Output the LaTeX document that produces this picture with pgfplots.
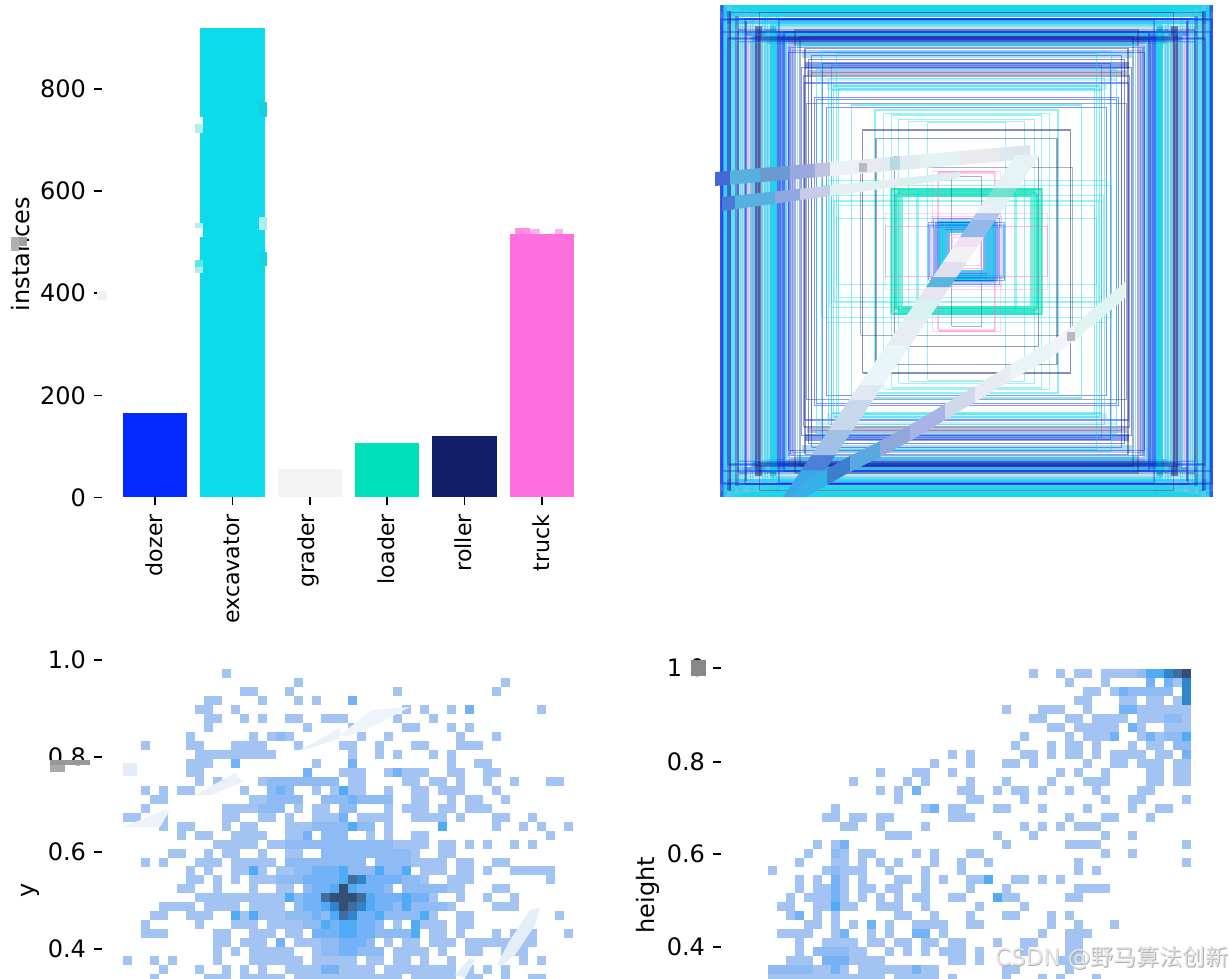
\documentclass[border=0pt]{standalone}
\usepackage{fontspec}
\setmainfont{DejaVu Sans}
\newfontfamily\cjk{Noto Sans CJK SC}
\usepackage{pgfplots}
\pgfplotsset{compat=1.18}
\definecolor{ca}{HTML}{A3C4F3}
\definecolor{cb}{HTML}{8FBBF5}
\definecolor{cc}{HTML}{73B2F6}
\definecolor{cd}{HTML}{4FABF5}
\definecolor{ce}{HTML}{2E85CC}
\definecolor{cf}{HTML}{3F6E9E}
\definecolor{cg}{HTML}{354F74}
\definecolor{kb}{HTML}{042AFF}
\definecolor{kc}{HTML}{0BDBEB}
\definecolor{kg}{HTML}{F3F3F3}
\definecolor{kt}{HTML}{00DFB7}
\definecolor{kn}{HTML}{111F68}
\definecolor{kp}{HTML}{FF6FDD}
\pgfplotsset{
  tfont/.style={tick label style={font=\fontsize{18}{21}\selectfont},/pgf/number format/assume math mode=true},
  panel/.style={anchor=south west,scale only axis,tfont,
    axis y line*=left,y axis line style={draw=none},
    ytick style={black,line width=1.1pt},major tick length=6pt,tick align=outside,
    yticklabel style={xshift=-2.5pt},
    label style={font=\fontsize{18}{21}\selectfont}},
  heat/.style={panel,hide x axis,y dir=reverse,ymin=-2.657,ymax=34.5,width=373.5pt,height=249.75pt},
  hm/.style={line width=6.76pt,line cap=butt},
}
\newcommand\A[3]{\addplot[hm,draw=ca] coordinates {(#2,#1)(#3,#1)};}
\newcommand\Ov[4]{\addplot[hm,draw=c#1] coordinates {(#3,#2)(#4,#2)};}
\newcommand\R[4][0.5]{\addplot[draw=k#2,opacity=#1,line width=0.95pt] coordinates {(-#3,-#4)(#3,-#4)(#3,#4)(-#3,#4)(-#3,-#4)};}
% wide bands of overlapping box edges: colour, width in px, half width, half height
\newcommand\Hb[4]{\definecolor{C#1}{HTML}{#1}%
  \addplot[draw=C#1,opacity=0.85,line width=#2*0.75pt] coordinates {(-#3,#4)(#3,#4)};%
  \addplot[draw=C#1,opacity=0.85,line width=#2*0.75pt] coordinates {(-#3,-#4)(#3,-#4)};}
\newcommand\Vb[4]{\definecolor{C#1}{HTML}{#1}%
  \addplot[draw=C#1,opacity=0.75,line width=#2*0.75pt] coordinates {(#3,-#4)(#3,#4)};%
  \addplot[draw=C#1,opacity=0.75,line width=#2*0.75pt] coordinates {(-#3,-#4)(-#3,#4)};}
\newcommand\G[2]{\definecolor{C#1}{HTML}{#1}\addplot[fill=C#1,draw=none] coordinates {#2} -- cycle;}
\begin{document}
\begin{tikzpicture}
\useasboundingbox (0,0) rectangle (922.5pt,733.5pt);
\clip (0,0) rectangle (922.5pt,733.5pt);
% ---------- bars
\begin{axis}[panel,at={(76.5pt,360.375pt)},width=373.5pt,height=358.125pt,
  xmin=-0.685,xmax=5.75,ymin=0,ymax=935,
  axis x line*=bottom,x axis line style={draw=none},
  xtick={0,1,2,3,4,5},xticklabels={dozer,excavator,grader,loader,roller,truck},
  xtick style={black,line width=1.1pt},
  xticklabel style={rotate=90,anchor=east,font=\fontsize{16.6}{19}\selectfont,yshift=0.75pt,xshift=-3pt},
  ytick={0,200,400,600,800},
  ylabel={instances},ylabel style={at={(axis description cs:-0.1627,0.51)},anchor=center},
  ybar,bar width=48.4pt,bar shift=0pt]
\addplot[fill=kb,draw=none] coordinates {(0,165)};
\addplot[fill=kc,draw=none] coordinates {(1,919)};
\addplot[fill=kg,draw=none] coordinates {(2,56)};
\addplot[fill=kt,draw=none] coordinates {(3,106)};
\addplot[fill=kn,draw=none] coordinates {(4,120)};
\addplot[fill=kp,draw=none] coordinates {(5,516)};
\end{axis}
% ---------- boxes
\begin{axis}[anchor=south west,scale only axis,at={(540pt,360.75pt)},width=369.75pt,height=368.25pt,
  xmin=-246.5,xmax=246.5,ymin=-245.5,ymax=245.5,hide axis]
\Hb{2CC4EE}{6.7}{246}{243.2}\Hb{20C8EE}{5}{244}{236.5}\Hb{2860E0}{2.3}{240}{232.2}\Hb{20C8EE}{3.3}{240}{229}
\Hb{A0E8F4}{5.3}{235}{224.8}\Hb{3090E0}{5.3}{230}{218.2}\Hb{5070C0}{4.7}{215}{213.2}\Hb{6090D8}{3.3}{200}{209.2}
\Hb{B0E0F0}{4.3}{170}{205.2}\Hb{A0D8F0}{7.3}{165}{197.2}\Hb{7090E0}{6.7}{162}{185.8}\Hb{B0B0D8}{5.3}{160}{178.8}
\Hb{C0F0F6}{3.3}{150}{172.2}\Hb{C0F0F6}{5.7}{140}{164.3}
\Vb{1A3FE0}{4}{244.5}{246}\Vb{20C0E8}{2.7}{241.2}{244}\Vb{2860D8}{4}{237.8}{240}\Vb{90E0F0}{5.3}{233.2}{235}
\Vb{4070C8}{3.3}{229.5}{235}\Vb{A0D8F0}{5.7}{224.2}{225}\Vb{3060E0}{2.3}{220.2}{230}\Vb{D0C0E8}{3.3}{217.5}{215}
\Vb{60A8E0}{3.7}{213.7}{220}\Vb{3A5AA0}{6.7}{208.2}{225}\Vb{A0D8E8}{5}{203.5}{215}\Vb{70C8F0}{4}{199}{222}
\Vb{10B8E0}{6}{193.5}{225}\Vb{4C80E8}{10}{185.5}{218}\Vb{B0D0F0}{2.7}{180.3}{210}\Vb{A0A8E8}{5.3}{175.5}{205}
\R{c}{242.5}{246.5}\R{c}{241.2}{245.5}\R{c}{233.8}{244.5}\R{c}{232.5}{243.5}\R{c}{225.8}{242.5}
\R{c}{224}{241.5}\R{c}{215.8}{240.5}\R{c}{213.8}{238.2}\R{c}{203.8}{237.2}\R{c}{201.5}{235.8}
\R{c}{199}{234.8}\R{c}{194.5}{230.2}\R{c}{193.5}{228.8}\R{c}{192.5}{226.5}\R{c}{191.5}{218.2}
\R{c}{180.5}{216.8}\R{c}{240}{209}\R{c}{196}{246}\R{c}{190}{244}\R{c}{188}{243}\R{c}{235}{246.5}\R{c}{228}{245.5}
\R[0.35]{b}{245.5}{232.5}\R[0.35]{b}{244.5}{231.5}\R[0.35]{b}{243.8}{219.5}\R[0.35]{b}{239.2}{213.5}\R[0.35]{b}{237.8}{212.5}
\R[0.35]{b}{229}{209.8}\R[0.35]{b}{221.5}{232.5}\R[0.35]{b}{209.8}{219.5}\R[0.35]{b}{189}{213.5}\R[0.35]{b}{187.5}{231.5}
\R[0.35]{b}{185.8}{212.5}\R[0.35]{b}{184}{209.8}\R[0.35]{b}{182.5}{219.5}
\R[0.35]{n}{236.5}{239.2}\R[0.35]{n}{228}{221.5}\R[0.35]{n}{211}{214.5}\R[0.35]{n}{208}{211.5}\R[0.35]{n}{207}{239.2}\R[0.35]{n}{171.5}{221.5}\R[0.35]{n}{166.5}{214.5}
\R[0.3]{p}{218}{225}
\R[0.3]{b}{177.5}{206.5}\R[0.3]{b}{175.8}{204}\R[0.3]{b}{174}{201}
\R[0.45]{n}{161.5}{202.8}\R{n}{158.2}{192.2}\R[0.4]{n}{163}{175.5}\R[0.4]{n}{160}{148.2}\R[0.3]{n}{155}{178.8}
\R{b}{154.8}{195.8}\R{b}{143.8}{187.8}\R[0.3]{b}{134.8}{186.2}\R{b}{165}{184.2}\R{b}{162}{168.5}
\R{b}{152}{154.2}\R{b}{150}{152.2}\R{b}{140}{144.2}\R{b}{178}{199}
\R{c}{169}{206.5}\R{c}{144.8}{199.8}\R{c}{129.8}{198.2}\R{c}{150}{182.2}\R{c}{138}{173.2}
\R{c}{133}{165.5}\R{c}{128}{163.2}\R{c}{135}{161.5}\R{c}{115}{146.5}\R{c}{92}{142}
\R[0.4]{c}{135}{50}\R[0.4]{c}{130}{33}\R[0.4]{c}{140}{71}\R[0.4]{c}{145}{66}\R[0.4]{c}{137}{56}\R[0.4]{c}{132}{51}\R[0.4]{c}{128}{46}
\R[0.4]{c}{90.8}{141}\R[0.4]{c}{83}{138}\R[0.4]{c}{74.8}{136.5}\R[0.4]{c}{68}{132}\R[0.4]{c}{58}{130}\R[0.4]{c}{39}{128.8}
\R{n}{103.8}{121.5}\R[0.4]{n}{90.5}{113.2}\R[0.35]{n}{106}{84}\R[0.45]{n}{71.7}{95}
\R{t}{75.4}{63}\R{t}{74}{62}\R{t}{71}{60}\R{t}{70}{59}\R{t}{66}{57}\R{t}{65}{56.5}\R{t}{72}{55}\R{t}{68}{61}
\R{t}{73}{61.5}\R{t}{69}{58.5}\R{t}{67}{60}\R{t}{64}{55}\R{t}{75}{62.5}\R{t}{70.5}{57.5}
\R[0.4]{c}{50}{56}\R[0.4]{c}{48.5}{60}
\R{p}{80.8}{25.3}\R[0.3]{p}{80.8}{38}\R{p}{28}{79.6}\R[0.3]{p}{34}{80}\R[0.3]{p}{29}{78}\R[0.35]{n}{15}{75}
\R[0.4]{b}{30}{28}\R[0.4]{b}{28}{30}\R[0.4]{b}{27}{26}\R[0.4]{b}{25}{24}\R[0.4]{b}{24}{27}\R[0.4]{b}{26}{29}\R[0.4]{b}{22}{25}
\R[0.4]{b}{23}{22}\R[0.4]{b}{21}{24}\R[0.4]{b}{20}{21}\R[0.4]{b}{19}{23}\R[0.4]{b}{18}{20}\R[0.4]{b}{27}{22}\R[0.4]{b}{17}{19}
\R{c}{28}{26}\R{c}{26}{28}\R{c}{25}{30}\R{c}{24}{29}\R{c}{23}{28}\R{c}{22}{27}\R{c}{21}{26}\R{c}{20}{28}\R{c}{26}{24}\R{c}{27}{27}
\R{c}{25}{25}\R{c}{24}{24}\R{c}{23}{23}\R{c}{22}{23}\R{c}{21}{21}\R{c}{20}{20}\R{c}{19}{19}\R{c}{18}{26}
\R{c}{27}{29}\R{c}{26}{26}\R{c}{25}{27}\R{c}{24}{26}\R{c}{23}{25}\R{c}{22}{24}\R{c}{28}{28}\R{c}{29}{30}
\R[0.4]{b}{31}{29}\R[0.4]{b}{29}{27}\R[0.4]{b}{37}{26}\R[0.4]{b}{32}{24}
\R{p}{18}{17}\R[0.35]{p}{14}{14}\R[0.35]{p}{30}{25}\R[0.35]{p}{35}{35}\R[0.35]{p}{29}{32}\R[0.35]{p}{25}{32}\R[0.35]{p}{22}{30}
\R[0.4]{c}{39}{27}\R[0.4]{b}{38}{29}\R[0.4]{c}{36}{24}\R[0.4]{b}{33}{33}\R[0.4]{c}{31}{31}
\end{axis}
% ---------- x-y histogram
\begin{axis}[heat,at={(76.5pt,-3.75pt)},xmin=-2.333,xmax=53,
  ytick={-1.54,9.27,19.9,30.7},yticklabels={1.0,0.8,0.6,0.4},
  ylabel={y},ylabel style={at={(axis description cs:-0.1446,0.279)},anchor=center}]
\A{0}{11}{12}
\A{1}{19}{20}\A{1}{42}{43}
\A{2}{13}{15}\A{2}{18}{19}\A{2}{30}{31}\A{2}{41}{42}
\A{3}{9}{11}\A{3}{15}{16}\A{3}{19}{20}\A{3}{21}{22}\A{3}{25}{26}
\A{4}{8}{10}\A{4}{12}{13}\A{4}{31}{32}\A{4}{33}{34}\A{4}{36}{37}\A{4}{38}{39}\A{4}{46}{47}
\A{5}{9}{11}\A{5}{13}{14}\A{5}{15}{16}\A{5}{18}{20}\A{5}{22}{25}\A{5}{30}{31}\A{5}{34}{35}
\A{6}{9}{10}\A{6}{20}{21}\A{6}{25}{26}\A{6}{31}{33}\A{6}{36}{37}\A{6}{38}{39}
\A{7}{7}{8}\A{7}{14}{15}\A{7}{16}{19}\A{7}{26}{27}\A{7}{29}{30}\A{7}{37}{38}\A{7}{41}{42}
\A{8}{2}{3}\A{8}{7}{9}\A{8}{12}{16}\A{8}{19}{20}\A{8}{24}{26}\A{8}{28}{29}\A{8}{32}{34}\A{8}{37}{40}
\A{9}{8}{17}\A{9}{25}{26}\A{9}{28}{29}\A{9}{30}{31}\A{9}{34}{35}\A{9}{36}{37}
\A{10}{7}{10}\A{10}{12}{13}\A{10}{21}{22}\A{10}{25}{26}\A{10}{36}{37}\A{10}{39}{41}
\A{11}{7}{9}\A{11}{20}{21}\A{11}{24}{27}\A{11}{29}{34}\A{11}{36}{38}\A{11}{40}{42}
\A{12}{8}{9}\A{12}{10}{11}\A{12}{15}{24}\A{12}{25}{27}\A{12}{31}{33}\A{12}{34}{36}\A{12}{37}{38}\A{12}{40}{41}\A{12}{43}{44}\A{12}{47}{49}
\A{13}{2}{3}\A{13}{4}{5}\A{13}{6}{8}\A{13}{13}{14}\A{13}{16}{19}\A{13}{21}{22}\A{13}{23}{27}\A{13}{29}{30}\A{13}{32}{34}\A{13}{35}{38}\A{13}{41}{42}
\A{14}{3}{5}\A{14}{14}{20}\A{14}{22}{30}\A{14}{32}{34}\A{14}{36}{37}\A{14}{38}{40}\A{14}{42}{43}
\A{15}{2}{3}\A{15}{11}{18}\A{15}{19}{20}\A{15}{21}{23}\A{15}{24}{26}\A{15}{29}{30}\A{15}{31}{34}\A{15}{35}{37}\A{15}{38}{41}
\A{16}{0}{2}\A{16}{4}{5}\A{16}{11}{13}\A{16}{15}{17}\A{16}{18}{19}\A{16}{21}{25}\A{16}{26}{30}\A{16}{32}{36}\A{16}{37}{38}\A{16}{41}{43}\A{16}{45}{46}
\A{17}{4}{5}\A{17}{6}{8}\A{17}{11}{12}\A{17}{13}{15}\A{17}{18}{28}\A{17}{29}{30}\A{17}{35}{36}\A{17}{41}{42}\A{17}{44}{45}\A{17}{46}{47}\A{17}{49}{50}
\A{18}{6}{7}\A{18}{8}{10}\A{18}{12}{16}\A{18}{18}{21}\A{18}{22}{25}\A{18}{27}{28}\A{18}{29}{30}\A{18}{32}{34}\A{18}{47}{48}
\A{19}{10}{15}\A{19}{16}{34}\A{19}{35}{37}\A{19}{38}{39}\A{19}{40}{41}\A{19}{43}{44}\A{19}{45}{46}
\A{20}{5}{7}\A{20}{9}{10}\A{20}{11}{13}\A{20}{15}{16}\A{20}{18}{20}\A{20}{22}{33}\A{20}{35}{37}
\A{21}{2}{3}\A{21}{4}{5}\A{21}{8}{11}\A{21}{12}{17}\A{21}{18}{27}\A{21}{28}{36}\A{21}{37}{39}\A{21}{41}{43}
\A{22}{7}{8}\A{22}{9}{10}\A{22}{12}{16}\A{22}{17}{32}\A{22}{33}{36}\A{22}{37}{39}\A{22}{40}{41}\A{22}{43}{48}
\A{23}{7}{9}\A{23}{10}{11}\A{23}{12}{13}\A{23}{14}{34}\A{23}{36}{39}\A{23}{47}{48}
\A{24}{6}{8}\A{24}{10}{11}\A{24}{14}{15}\A{24}{17}{19}\A{24}{20}{30}\A{24}{31}{38}\A{24}{41}{43}
\A{25}{8}{35}\A{25}{37}{38}\A{25}{40}{41}\A{25}{43}{44}
\A{26}{4}{8}\A{26}{9}{13}\A{26}{14}{18}\A{26}{19}{37}\A{26}{41}{44}
\A{27}{3}{5}\A{27}{7}{10}\A{27}{12}{35}\A{27}{37}{39}\A{27}{48}{49}
\A{28}{2}{3}\A{28}{8}{9}\A{28}{12}{15}\A{28}{16}{29}\A{28}{30}{31}\A{28}{32}{36}\A{28}{37}{39}
\A{29}{2}{5}\A{29}{10}{12}\A{29}{14}{17}\A{29}{18}{20}\A{29}{21}{33}\A{29}{34}{36}\A{29}{37}{38}\A{29}{41}{42}\A{29}{43}{46}\A{29}{49}{50}
\A{30}{10}{12}\A{30}{13}{16}\A{30}{17}{18}\A{30}{19}{28}\A{30}{29}{30}\A{30}{31}{33}\A{30}{34}{37}\A{30}{38}{46}
\A{31}{10}{11}\A{31}{12}{13}\A{31}{14}{19}\A{31}{21}{29}\A{31}{30}{34}\A{31}{35}{36}\A{31}{38}{40}\A{31}{42}{45}
\A{32}{0}{1}\A{32}{3}{4}\A{32}{5}{6}\A{32}{10}{11}\A{32}{14}{20}\A{32}{21}{26}\A{32}{27}{29}\A{32}{30}{32}\A{32}{33}{34}\A{32}{36}{37}\A{32}{44}{45}\A{32}{46}{47}
\A{33}{4}{5}\A{33}{8}{9}\A{33}{11}{12}\A{33}{13}{14}\A{33}{15}{16}\A{33}{18}{28}\A{33}{29}{37}\A{33}{38}{39}\A{33}{40}{41}\A{33}{42}{43}
\A{34}{3}{4}\A{34}{9}{12}\A{34}{13}{18}\A{34}{19}{31}\A{34}{32}{37}\A{34}{38}{40}\A{34}{42}{43}\A{34}{45}{47}
% mid tones
\Ov{b}{7}{17}{18}\Ov{b}{12}{16}{24}\Ov{b}{13}{16}{19}\Ov{b}{14}{16}{20}\Ov{b}{14}{22}{30}\Ov{b}{15}{15}{18}\Ov{b}{15}{24}{26}
\Ov{b}{17}{21}{28}\Ov{b}{18}{22}{25}\Ov{b}{19}{18}{30}\Ov{b}{20}{22}{32}\Ov{b}{21}{18}{27}\Ov{b}{21}{28}{32}\Ov{b}{22}{19}{32}\Ov{b}{23}{17}{33}
\Ov{b}{24}{20}{30}\Ov{b}{24}{31}{36}\Ov{b}{25}{18}{34}\Ov{b}{26}{19}{36}\Ov{b}{27}{18}{34}\Ov{b}{28}{20}{29}\Ov{b}{29}{22}{33}\Ov{b}{30}{22}{28}\Ov{b}{31}{22}{29}
\Ov{c}{10}{12}{13}\Ov{c}{11}{20}{21}\Ov{c}{3}{25}{26}\Ov{c}{4}{38}{39}\Ov{c}{10}{25}{26}\Ov{c}{11}{30}{31}\Ov{c}{13}{17}{18}\Ov{c}{14}{25}{26}
\Ov{c}{16}{24}{25}\Ov{c}{18}{20}{21}\Ov{c}{22}{21}{24}\Ov{c}{23}{20}{24}\Ov{c}{23}{26}{31}\Ov{c}{24}{21}{23}\Ov{c}{24}{26}{29}\Ov{c}{25}{20}{22}\Ov{c}{25}{28}{34}
\Ov{c}{26}{20}{22}\Ov{c}{26}{28}{30}\Ov{c}{27}{21}{22}\Ov{c}{27}{26}{28}\Ov{c}{28}{23}{24}\Ov{c}{28}{26}{28}\Ov{c}{29}{21}{24}\Ov{c}{29}{26}{28}\Ov{c}{30}{24}{27}\Ov{c}{31}{24}{26}\Ov{c}{33}{22}{24}\Ov{c}{30}{17}{18}
\Ov{d}{13}{24}{25}\Ov{d}{17}{25}{26}\Ov{d}{17}{35}{36}\Ov{d}{22}{14}{15}\Ov{d}{22}{24}{25}\Ov{d}{22}{28}{29}\Ov{d}{22}{31}{32}
\Ov{d}{23}{24}{25}\Ov{d}{24}{23}{24}\Ov{d}{24}{25}{26}\Ov{d}{25}{18}{19}\Ov{d}{25}{27}{28}\Ov{d}{25}{31}{32}\Ov{d}{26}{22}{23}\Ov{d}{26}{27}{28}\Ov{d}{26}{31}{32}
\Ov{d}{27}{12}{13}\Ov{d}{27}{14}{15}\Ov{d}{27}{23}{24}\Ov{d}{27}{28}{29}\Ov{d}{27}{33}{34}\Ov{d}{28}{22}{23}\Ov{d}{28}{24}{26}\Ov{d}{28}{32}{33}
\Ov{d}{29}{24}{26}\Ov{d}{29}{32}{33}
\Ov{e}{23}{26}{27}\Ov{e}{26}{26}{27}\Ov{e}{27}{25}{26}\Ov{e}{26}{23}{24}
\Ov{f}{23}{25}{26}\Ov{f}{25}{22}{23}\Ov{f}{25}{26}{27}\Ov{f}{26}{25}{26}\Ov{f}{27}{24}{25}
\Ov{g}{24}{24}{25}\Ov{g}{25}{23}{26}\Ov{g}{26}{24}{25}
\end{axis}
% ---------- width-height histogram
\begin{axis}[heat,at={(540.75pt,-3.75pt)},width=369pt,xmin=-2.19,xmax=52.48,
  ytick={-0.65,9.84,20.1,30.5},yticklabels={1.0,0.8,0.6,0.4},
  ylabel={height},ylabel style={at={(axis description cs:-0.148,0.264)},anchor=center}]
\A{0}{32}{33}\A{0}{35}{36}\A{0}{37}{39}\A{0}{40}{50}
\A{1}{36}{37}\A{1}{40}{41}\A{1}{45}{46}\A{1}{47}{50}
\A{2}{38}{40}\A{2}{41}{48}\A{2}{49}{50}
\A{3}{37}{39}\A{3}{42}{44}\A{3}{45}{47}\A{3}{48}{50}
\A{4}{29}{30}\A{4}{33}{36}\A{4}{38}{39}\A{4}{42}{50}
\A{5}{32}{34}\A{5}{36}{38}\A{5}{39}{43}\A{5}{44}{50}
\A{6}{34}{36}\A{6}{37}{42}\A{6}{43}{45}\A{6}{47}{50}
\A{7}{31}{32}\A{7}{36}{37}\A{7}{38}{42}\A{7}{44}{50}
\A{8}{30}{31}\A{8}{34}{35}\A{8}{36}{38}\A{8}{39}{40}\A{8}{43}{44}\A{8}{45}{47}\A{8}{48}{50}
\A{9}{23}{24}\A{9}{25}{26}\A{9}{31}{33}\A{9}{34}{35}\A{9}{36}{38}\A{9}{39}{40}\A{9}{41}{45}\A{9}{46}{48}\A{9}{49}{50}
\A{10}{21}{22}\A{10}{25}{26}\A{10}{29}{31}\A{10}{32}{33}\A{10}{38}{39}\A{10}{41}{43}\A{10}{44}{47}\A{10}{48}{50}
\A{11}{15}{16}\A{11}{19}{21}\A{11}{23}{24}\A{11}{35}{36}\A{11}{37}{38}\A{11}{40}{41}\A{11}{45}{47}\A{11}{48}{50}
\A{12}{12}{13}\A{12}{18}{19}\A{12}{20}{21}\A{12}{25}{26}\A{12}{29}{30}\A{12}{34}{35}\A{12}{38}{41}\A{12}{45}{47}\A{12}{48}{50}
\A{13}{15}{16}\A{13}{17}{18}\A{13}{19}{20}\A{13}{24}{26}\A{13}{28}{29}\A{13}{30}{32}\A{13}{33}{34}\A{13}{36}{37}\A{13}{39}{40}\A{13}{44}{46}
\A{14}{17}{18}\A{14}{25}{27}\A{14}{31}{32}\A{14}{40}{41}\A{14}{43}{45}\A{14}{49}{50}
\A{15}{10}{11}\A{15}{20}{22}\A{15}{23}{25}\A{15}{28}{30}\A{15}{33}{34}\A{15}{38}{39}\A{15}{43}{44}\A{15}{46}{48}
\A{16}{9}{11}\A{16}{12}{14}\A{16}{15}{17}\A{16}{23}{26}\A{16}{36}{37}\A{16}{40}{42}\A{16}{45}{46}
\A{17}{11}{13}\A{17}{15}{16}\A{17}{20}{21}\A{17}{31}{32}\A{17}{33}{34}\A{17}{35}{36}\A{17}{37}{40}
\A{18}{16}{19}\A{18}{28}{29}\A{18}{32}{33}\A{18}{40}{41}\A{18}{43}{44}
\A{19}{8}{9}\A{19}{10}{12}\A{19}{29}{30}\A{19}{36}{40}\A{19}{49}{50}
\A{20}{7}{8}\A{20}{10}{12}\A{20}{13}{15}\A{20}{19}{20}\A{20}{21}{22}\A{20}{25}{27}\A{20}{40}{41}\A{20}{43}{44}
\A{21}{6}{7}\A{21}{10}{12}\A{21}{13}{14}\A{21}{15}{16}\A{21}{17}{18}\A{21}{21}{22}\A{21}{24}{25}\A{21}{27}{28}\A{21}{37}{38}\A{21}{49}{50}
\A{22}{3}{4}\A{22}{9}{14}\A{22}{16}{17}\A{22}{20}{21}\A{22}{24}{25}\A{22}{37}{38}\A{22}{39}{40}
\A{23}{6}{7}\A{23}{8}{9}\A{23}{10}{12}\A{23}{13}{14}\A{23}{17}{19}\A{23}{20}{21}\A{23}{22}{23}\A{23}{25}{28}\A{23}{30}{32}\A{23}{33}{34}\A{23}{35}{36}
\A{24}{6}{7}\A{24}{8}{12}\A{24}{13}{15}\A{24}{16}{18}\A{24}{20}{21}\A{24}{25}{26}\A{24}{29}{30}\A{24}{37}{41}
\A{25}{5}{6}\A{25}{7}{12}\A{25}{13}{14}\A{25}{15}{16}\A{25}{17}{18}\A{25}{19}{21}\A{25}{23}{25}\A{25}{28}{31}\A{25}{36}{38}
\A{26}{4}{6}\A{26}{8}{13}\A{26}{15}{18}\A{26}{20}{21}\A{26}{26}{27}\A{26}{31}{32}
\A{27}{5}{7}\A{27}{8}{9}\A{27}{10}{11}\A{27}{17}{19}\A{27}{21}{22}\A{27}{25}{26}\A{27}{29}{31}\A{27}{34}{35}\A{27}{36}{37}
\A{28}{7}{9}\A{28}{10}{11}\A{28}{12}{13}\A{28}{14}{15}\A{28}{16}{17}\A{28}{19}{23}\A{28}{25}{27}\A{28}{34}{35}\A{28}{37}{38}\A{28}{41}{42}
\A{29}{4}{8}\A{29}{10}{12}\A{29}{14}{15}\A{29}{16}{17}\A{29}{19}{21}\A{29}{22}{23}\A{29}{33}{34}\A{29}{36}{39}
\A{30}{6}{7}\A{30}{9}{13}\A{30}{14}{16}\A{30}{17}{19}\A{30}{20}{22}\A{30}{23}{25}\A{30}{28}{29}\A{30}{31}{33}\A{30}{36}{38}
\A{31}{6}{7}\A{31}{8}{14}\A{31}{16}{17}\A{31}{18}{19}\A{31}{20}{21}\A{31}{22}{25}\A{31}{26}{27}\A{31}{31}{32}\A{31}{36}{38}
\A{32}{5}{8}\A{32}{9}{16}\A{32}{23}{25}\A{32}{26}{27}\A{32}{35}{38}
\A{33}{3}{12}\A{33}{13}{22}\A{33}{29}{31}\A{33}{36}{37}
\A{34}{3}{16}\A{34}{17}{22}\A{34}{23}{24}\A{34}{29}{30}\A{34}{33}{34}\A{34}{35}{36}\A{34}{39}{40}
\Ov{b}{0}{44}{45}\Ov{b}{2}{42}{48}\Ov{b}{5}{47}{49}\Ov{b}{7}{47}{49}\Ov{b}{8}{48}{50}\Ov{b}{31}{8}{12}\Ov{b}{33}{3}{8}\Ov{b}{20}{10}{11}\Ov{b}{22}{10}{11}
\Ov{c}{1}{45}{46}\Ov{c}{1}{47}{48}\Ov{c}{2}{42}{43}\Ov{c}{4}{42}{44}\Ov{c}{6}{43}{44}\Ov{c}{7}{41}{42}\Ov{c}{7}{45}{46}\Ov{c}{9}{49}{50}\Ov{c}{13}{19}{20}\Ov{c}{15}{21}{22}
\Ov{c}{19}{11}{12}\Ov{c}{23}{10}{11}\Ov{c}{24}{10}{11}\Ov{c}{25}{10}{11}\Ov{c}{27}{6}{7}\Ov{c}{28}{14}{15}\Ov{c}{29}{11}{12}\Ov{c}{29}{19}{21}\Ov{c}{32}{9}{12}\Ov{c}{33}{10}{11}\Ov{c}{33}{19}{20}
\Ov{d}{0}{45}{47}\Ov{d}{7}{49}{50}\Ov{d}{26}{10}{11}\Ov{d}{23}{27}{28}\Ov{d}{25}{28}{29}
\Ov{e}{0}{47}{48}\Ov{e}{1}{49}{50}\Ov{e}{2}{49}{50}\Ov{e}{3}{49}{50}
\Ov{f}{0}{48}{49}\Ov{g}{0}{49}{50}
\end{axis}
% ---------- retouched patches and watermark
\begin{axis}[anchor=south west,scale only axis,at={(0pt,0pt)},width=922.5pt,height=733.5pt,
  xmin=0,xmax=1230,ymin=0,ymax=978,y dir=reverse,hide axis]
% band A
\G{4468D8}{(715,172)(730,170.7)(730,184.7)(715,186)}
\G{58B0E0}{(730,170.7)(760,168.1)(760,182.1)(730,184.7)}
\G{6A9AD0}{(760,168.1)(790,165.6)(790,179.6)(760,182.1)}
\G{9AA8E0}{(790,165.6)(815,163.4)(815,177.4)(790,179.6)}
\G{C0C4E0}{(815,163.4)(830,162.1)(830,176.1)(815,177.4)}
\G{EEF0F8}{(830,162.1)(860,159.6)(860,173.6)(830,176.1)}
\G{E8EAF0}{(860,159.6)(880,157.9)(880,171.9)(860,173.6)}
\G{E2ECF0}{(880,157.9)(920,154.4)(920,168.4)(880,171.9)}
\G{E4F2F4}{(920,154.4)(960,151)(960,165)(920,168.4)}
\G{E8EAF0}{(960,151)(1000,147.6)(1000,161.6)(960,165)}
\G{DCE8EE}{(1000,147.6)(1030,145)(1030,159)(1000,161.6)}
% band B
\G{4A7AD8}{(722,197)(735,195.6)(735,209.2)(722,211)}
\G{58B0E0}{(735,195.6)(775,191.4)(775,203.6)(735,209.2)}
\G{90A8E0}{(775,191.4)(800,188.8)(800,200.2)(775,203.6)}
\G{C8CCE8}{(800,188.8)(830,185.6)(830,196)(800,200.2)}
\G{E2F0F2}{(830,185.6)(900,178.3)(900,186.3)(830,196)}
\G{D8F0EE}{(900,178.3)(960,172)(960,178)(900,186.3)}
% band C
\G{3AA8E8}{(783,497)(807,497)(825.4,470)(801.4,470)}
\G{4E7FD8}{(801.4,470)(825.4,470)(835.6,455)(811.6,455)}
\G{A0C0E8}{(811.6,455)(835.6,455)(852.6,430)(828.6,430)}
\G{C8D8EC}{(828.6,430)(852.6,430)(873,400)(849,400)}
\G{E0E8F0}{(849,400)(873,400)(883.3,385)(859.3,385)}
\G{E8F6F8}{(859.3,385)(883.3,385)(910.5,345)(886.5,345)}
\G{E6EEF2}{(886.5,345)(910.5,345)(927.5,320)(903.5,320)}
\G{D8F2F0}{(903.5,320)(927.5,320)(941.2,300)(917.2,300)}
\G{E8E4F0}{(917.2,300)(941.2,300)(950,287)(926,287)}
\G{58B5E2}{(926,287)(950,287)(956.8,277)(932.8,277)}
\G{E0DFF0}{(932.8,277)(956.8,277)(967,262)(943,262)}
\G{F0F2F8}{(943,262)(967,262)(977.2,247)(953.2,247)}
\G{F4E0F0}{(953.2,247)(977.2,247)(984,237)(960,237)}
\G{90B8E8}{(960,237)(984,237)(995.6,220)(971.6,220)}
\G{B0C4F0}{(971.6,220)(995.6,220)(1000.4,213)(976.4,213)}
\G{E8F0F8}{(976.4,213)(1000.4,213)(1007.2,203)(983.2,203)}
\G{E0F4F4}{(983.2,203)(1007.2,203)(1011.3,197)(987.3,197)}
\G{70E0D0}{(987.3,197)(1011.3,197)(1017.4,188)(993.4,188)}
\G{E4F4F4}{(993.4,188)(1017.4,188)(1040,155)(1016,155)}
% band D
\G{35B0E8}{(790,497)(805,481)(827,469)(827,485)(806,497)}
\G{3C7FD0}{(827,469)(850,456)(850,472)(827,485)}
\G{5AA8E0}{(850,456)(880,441)(880,457)(850,472)}
\G{90A8D8}{(880,441)(910,425)(910,441)(880,457)}
\G{A8B4E8}{(910,425)(945,404)(945,420)(910,441)}
\G{D0D8EC}{(945,404)(975,386)(975,402)(945,420)}
\G{E8ECF2}{(975,386)(1010,365)(1010,381)(975,402)}
\G{E8F4F6}{(1010,365)(1050,342)(1050,358)(1010,381)}
\G{F0F4F8}{(1050,342)(1075,324)(1075,340)(1050,358)}
\G{E0F4F2}{(1075,324)(1125,282)(1125,298)(1075,340)}
\G{B8B8C8}{(1067,332)(1075,332)(1075,341)(1067,341)}
\G{B8B8C8}{(859,163)(867,163)(867,172)(859,172)}
\G{B8D8E4}{(890,157)(900,157)(900,170)(890,170)}
% left panel retouching
\G{B0B0B0}{(11,237)(19,237)(19,251)(11,251)}
\G{A0A0A0}{(19,237)(27,237)(27,246)(19,246)}
\G{F2F2F2}{(97,291)(107,291)(107,300)(97,300)}
\G{FFFFFF}{(200,117)(203,117)(203,124)(200,124)}
\G{B0EEF2}{(195,124)(203,124)(203,133)(195,133)}
\G{B0EEF2}{(195,223)(203,223)(203,228)(195,228)}
\G{F6FEFE}{(195,228)(203,228)(203,237)(195,237)}
\G{5FE5EE}{(195,260)(203,260)(203,267)(195,267)}
\G{B0EEF2}{(195,267)(203,267)(203,273)(195,273)}
\G{14D0E0}{(259,102)(267,102)(267,117)(259,117)}
\G{A8EEF4}{(259,217)(267,217)(267,230)(259,230)}
\G{12D4E4}{(259,252)(267,252)(267,266)(259,266)}
\G{FF8FE4}{(515,228)(530,228)(530,234)(515,234)}
\G{FFB0EC}{(530,229)(540,229)(540,234)(530,234)}
\G{FFB0EC}{(555,229)(563,229)(563,234)(555,234)}
\G{989898}{(50,760)(90,760)(90,765)(50,765)}
\G{A8A8A8}{(50,765)(65,765)(65,772)(50,772)}
\G{FFFFFF}{(681,658)(692,658)(692,680)(681,680)}
\G{888888}{(691,660)(706,660)(706,676)(691,676)}
% pale streaks in the lower left panel
\G{EAF1FB}{(195,795)(235,773)(243,782)(212,795)}
\G{EAF1FB}{(300,750)(340,728)(340,738)(305,750)}
\G{EEF4FC}{(340,735)(372,710)(410,707)(375,725)(347,737)}
\G{E4ECF8}{(123,763)(137,763)(137,776)(123,776)}
\G{EEF3FB}{(123,827)(165,810)(170,810)(160,827)}
\G{E4EEF9}{(455,975)(470,958)(475,960)(465,978)}
\G{E4EEF9}{(497,965)(510,940)(530,910)(540,908)(535,925)(515,955)(502,965)}
\node[anchor=west,text=black!32,font=\fontsize{17.2}{20}\selectfont,inner sep=0pt] at (axis cs:995.6,958.6) {CSDN @\cjk 野马算法创新};
\node[anchor=west,text=white!90!black,font=\fontsize{17.2}{20}\selectfont,inner sep=0pt] at (axis cs:995,958) {CSDN @\cjk 野马算法创新};
\end{axis}
\end{tikzpicture}
\end{document}
